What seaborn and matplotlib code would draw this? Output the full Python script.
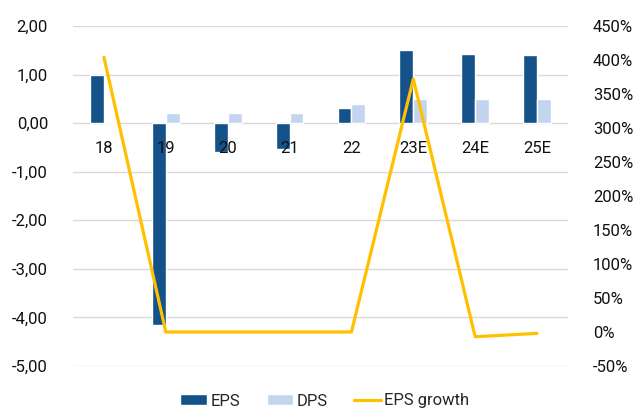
import numpy as np
import pandas as pd
import matplotlib
matplotlib.use("Agg")
import matplotlib.pyplot as plt
from matplotlib.ticker import FuncFormatter, MultipleLocator
from matplotlib.patches import Patch
from matplotlib.lines import Line2D
import seaborn as sns

years = ["18", "19", "20", "21", "22", "23E", "24E", "25E"]
eps = [1.00, -4.15, -0.60, -0.54, 0.31, 1.51, 1.43, 1.41]
dps = [0.00, 0.20, 0.20, 0.20, 0.39, 0.50, 0.50, 0.50]
eps_growth = [4.04, 0.0, 0.0, 0.0, 0.0, 3.72, -0.07, -0.02]

EPS_COLOR = "#15528a"
DPS_COLOR = "#c3d5ee"
GROWTH_COLOR = "#ffc000"
GRID_COLOR = "#d9d9d9"
TEXT_COLOR = "#111111"
FS = 12

sns.set_theme(style="white")
plt.rcParams["font.family"] = ["Roboto", "DejaVu Sans"]
plt.rcParams["font.size"] = FS

bars = pd.DataFrame({
    "year": years * 2,
    "value": eps + dps,
    "series": ["EPS"] * len(years) + ["DPS"] * len(years),
})

fig = plt.figure(figsize=(6.33, 4.09), dpi=100)
ax = fig.add_axes([73 / 633, 1 - 366 / 409, (568 - 73) / 633, (366 - 26) / 409])

sns.barplot(data=bars, x="year", y="value", hue="series", order=years,
            hue_order=["EPS", "DPS"], palette=[EPS_COLOR, DPS_COLOR],
            width=0.45, gap=0, saturation=1, ax=ax, legend=False)

ax.set_ylim(-5, 2)
ax.yaxis.set_major_locator(MultipleLocator(1))
ax.yaxis.set_major_formatter(FuncFormatter(lambda v, p: f"{v:.2f}".replace(".", ",")))

# horizontal gridlines behind the bars; category labels stay on top of the bars
ax.grid(False)
for t in ax.get_yticks():
    if -5 <= t <= 2:
        ax.axhline(t, color=GRID_COLOR, linewidth=1, zorder=0)
ax.set_axisbelow(False)

for s in ax.spines.values():
    s.set_visible(False)
ax.spines["bottom"].set_position(("data", 0))
ax.tick_params(axis="x", length=0, pad=13, labelsize=FS, colors=TEXT_COLOR)
ax.tick_params(axis="y", length=0, pad=18, labelsize=FS, colors=TEXT_COLOR)
ax.set_xlabel("")
ax.set_ylabel("")

ax2 = ax.twinx()
sns.lineplot(x=np.arange(len(years)), y=eps_growth, color=GROWTH_COLOR,
             linewidth=2.3, ax=ax2)
ax2.set_ylim(-0.5, 4.5)
ax2.yaxis.set_major_locator(MultipleLocator(0.5))
ax2.yaxis.set_major_formatter(FuncFormatter(lambda v, p: f"{v * 100:.0f}%"))
ax2.tick_params(axis="y", length=0, pad=18, labelsize=FS, colors=TEXT_COLOR)
ax2.grid(False)
for s in ax2.spines.values():
    s.set_visible(False)
ax2.set_ylabel("")
ax.set_xlim(-0.5, len(years) - 0.5)

handles = [
    Patch(facecolor=EPS_COLOR, label="EPS"),
    Patch(facecolor=DPS_COLOR, label="DPS"),
    Line2D([], [], color=GROWTH_COLOR, linewidth=2.3, label="EPS growth"),
]
fig.legend(handles=handles, loc="center", bbox_to_anchor=(325 / 633, 1 - 401 / 409),
           ncol=3, frameon=False, fontsize=FS, handlelength=1.6,
           handleheight=0.6, handletextpad=0.2, columnspacing=1.6,
           borderaxespad=0, borderpad=0)

fig.savefig("out.png", dpi=100)
